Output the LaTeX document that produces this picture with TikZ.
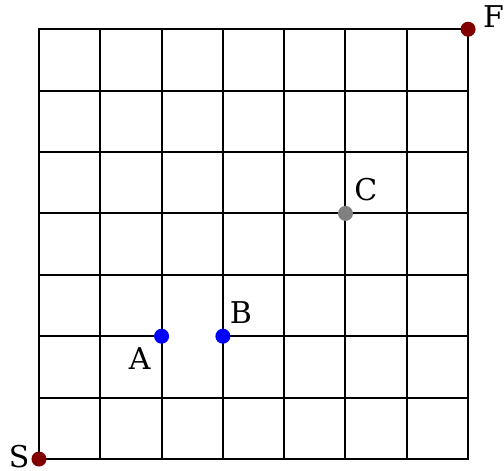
\documentclass[tikz,border=0pt]{standalone}
\usepackage{fontspec}
\setmainfont{DejaVu Serif}
\usetikzlibrary{positioning}
\definecolor{sombre}{RGB}{128,0,0}
\tikzset{
  sommet/.style={circle, fill=#1, inner sep=0pt, minimum size=15pt},
  lbl/.style={inner sep=0pt, font=\fontsize{30}{36}\selectfont},
}

\begin{document}
\begin{tikzpicture}[x=61.3pt, y=61.4pt, line width=2pt, line cap=rect]
    \useasboundingbox (-0.636,-0.195) rectangle (7.586,7.476);
    % Lignes verticales
    \foreach \x in {0,...,7} {
        \draw (\x,0) -- (\x,7);
    }
    % Lignes horizontales
    \foreach \y in {0,1,3,4,5,6,7} {
        \draw (0,\y) -- (7,\y);
    }
    % Ligne y = 2, sans le segment entre A et B
    \draw (0,2) -- (2,2);
    \draw (3,2) -- (7,2);

    % Sommets
    \node[sommet=sombre] (S) at (0,0) {};
    \node[sommet=sombre] (F) at (7,7) {};
    \node[sommet=blue] (A) at (2,2) {};
    \node[sommet=blue] (B) at (3,2) {};
    \node[sommet=gray] (C) at (5,4) {};

    % Etiquettes
    \node[lbl, left=0pt of S, yshift=2.5pt] (lS) {S};
    \node[lbl, above right=-5pt and 8pt of F] (lF) {F};
    \node[lbl, below left=4pt and 4pt of A] (lA) {A};
    \node[lbl, above right=6pt and 0pt of B] (lB) {B};
    \node[lbl, above right=5pt and 2pt of C] (lC) {C};
\end{tikzpicture}
\end{document}
